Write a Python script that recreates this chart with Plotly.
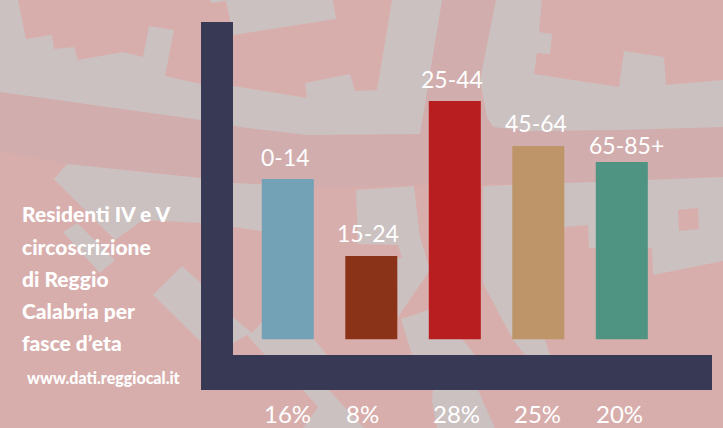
import plotly.graph_objects as go

# ---- data ----
age_groups = ["0-14", "15-24", "25-44", "45-64", "65-85+"]
bar_heights = [16.05, 8.35, 23.85, 19.35, 17.75]
percent_labels = ["16%", "8%", "28%", "25%", "20%"]
bar_colors = ["#73A1B6", "#8A3318", "#B81D20", "#BE9568", "#4F9382"]
title_lines = ["Residenti IV e V", "circoscrizione", "di Reggio", "Calabria per", "fasce d\u2019eta"]
source_text = "www.dati.reggiocal.it"

# ---- layout (pixels of the 723x428 page) ----
W, H = 723, 428
PINK, GREY, BAND, NAVY = "#D8AEAC", "#CBC1C0", "#D1ADAD", "#383955"
FONT = "Lato"
TITLE_FONT = "Lato"
name_shift = [-2, -3, -3, -2, 5]
name_lift = [22, 23, 22, 23, 17]
pct_shift = [0, -9, 2, -1, -2]


def poly(points, color):
    path = "M" + " L".join(f"{x / W:.5f},{1 - y / H:.5f}" for x, y in points) + " Z"
    return dict(type="path", xref="paper", yref="paper", path=path,
                fillcolor=color, line=dict(width=0), layer="below")


backdrop = [
    ([(0, 92), (201, 120), (420, 134), (442, 0), (496, 0), (480, 95), (493, 127), (723, 127),
      (723, 177), (565, 183), (417, 185), (310, 188), (240, 183), (201, 178), (67, 164), (0, 151)], BAND),
    ([(0, 0), (18, 0), (26, 39), (52, 35), (54, 49), (74, 47), (78, 60), (123, 52), (143, 57), (149, 26),
      (174, 30), (165, 76), (201, 84), (240, 87), (307, 98), (305, 83), (350, 74), (355, 91), (377, 90),
      (392, 0), (442, 0), (420, 134), (307, 135), (240, 127), (201, 120), (0, 92)], GREY),
    ([(209, 0), (212, 3), (226, 1), (230, 20), (233, 35), (336, 19), (333, 0)], GREY),
    ([(496, 0), (542, 0), (539, 32), (552, 34), (550, 54), (537, 53), (534, 74), (619, 87), (624, 51),
      (664, 57), (666, 85), (723, 80), (723, 127), (620, 130), (530, 131), (493, 127), (487, 117), (480, 80)], GREY),
    ([(67, 164), (201, 178), (201, 223), (143, 220), (115, 240), (54, 179)], GREY),
    ([(63, 232), (77, 223), (115, 260), (100, 273)], GREY),
    ([(153, 295), (182, 266), (201, 283), (201, 342)], GREY),
    ([(233, 183), (275, 185), (275, 233), (233, 227)], GREY),
    ([(356, 190), (414, 186), (420, 237), (430, 270), (398, 317), (397, 258), (402, 258), (398, 245), (358, 244)], GREY),
    ([(401, 319), (435, 308), (462, 339), (475, 355), (412, 355)], GREY),
    ([(433, 390), (478, 390), (495, 428), (437, 428), (432, 401)], GREY),
    ([(483, 186), (565, 183), (723, 177), (723, 261), (653, 275), (652, 248), (589, 248), (588, 225), (565, 227),
      (545, 340), (550, 355), (525, 355), (513, 340), (483, 283)], GREY),
    ([(678, 210), (698, 208), (699, 229), (679, 231)], PINK),
    ([(233, 317), (252, 333), (262, 322), (313, 338), (327, 355), (265, 355), (247, 335), (233, 343)], GREY),
    ([(303, 390), (318, 407), (303, 428), (364, 428), (329, 390)], GREY),
    ([(201, 22), (233, 22), (233, 355), (712, 355), (712, 390), (201, 390)], NAVY),
]

fig = go.Figure(go.Bar(x=age_groups, y=bar_heights,
                       marker=dict(color=bar_colors, line=dict(width=0)), hoverinfo="skip"))

notes = []
for name, h, dx, lift in zip(age_groups, bar_heights, name_shift, name_lift):
    notes.append(dict(x=name, y=h, xref="x", yref="y", text=name, showarrow=False, xshift=dx, yshift=lift,
                      xanchor="center", yanchor="middle", font=dict(family=FONT, size=23, color="white")))
for name, pct, dx in zip(age_groups, percent_labels, pct_shift):
    notes.append(dict(x=name, y=1 - 413 / H, xref="x", yref="paper", text=pct, showarrow=False, xshift=dx,
                      xanchor="center", yanchor="middle", font=dict(family=FONT, size=24, color="white")))
for line, py in zip(title_lines, [213, 246, 278, 310, 342]):
    notes.append(dict(x=20 / W, y=1 - py / H, xref="paper", yref="paper", text=line, showarrow=False,
                      xanchor="left", yanchor="middle",
                      font=dict(family=TITLE_FONT, size=21, color="white", weight=900)))
notes.append(dict(x=25 / W, y=1 - 377 / H, xref="paper", yref="paper", text=source_text, showarrow=False,
                  xanchor="left", yanchor="middle",
                  font=dict(family=TITLE_FONT, size=16, color="white", weight=900)))

fig.update_layout(
    width=W, height=H, margin=dict(l=0, r=0, t=0, b=0), autosize=False,
    paper_bgcolor=PINK, plot_bgcolor="rgba(0,0,0,0)", showlegend=False, bargap=0.377,
    xaxis=dict(domain=[246.05 / W, 663.55 / W], range=[-0.5, 4.5], showticklabels=False, showgrid=False,
               zeroline=False, ticks="", type="category", categoryorder="array", categoryarray=age_groups),
    yaxis=dict(domain=[1 - 339.5 / H, 1 - 39.5 / H], range=[0, 30], visible=False),
    shapes=[poly(p, c) for p, c in backdrop],
    annotations=notes,
)

fig.write_html("out.html", config=dict(displayModeBar=False),
               post_script="document.body.style.margin='0';document.documentElement.style.overflow='hidden';")
